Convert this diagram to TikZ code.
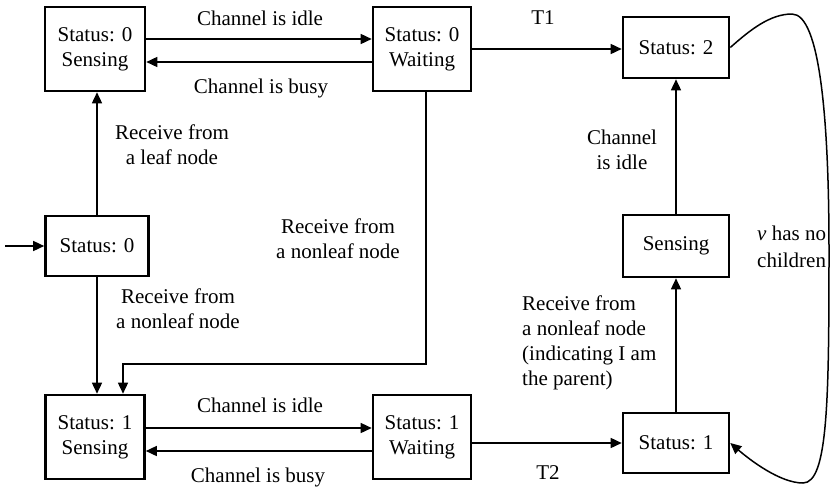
\documentclass[tikz,border=0pt]{standalone}
\usepackage{fontspec}
\setmainfont{Liberation Serif}
\usetikzlibrary{arrows.meta}
\begin{document}
\begin{tikzpicture}[x=1pt,y=-1pt,
  every node/.style={font=\fontsize{21}{25}\selectfont},
  stbox/.style={draw, line width=2.6pt, align=center, inner sep=0pt},
  lbl/.style={inner sep=0pt, align=center},
  arr/.style={line width=1.5pt, -{Triangle[length=11pt,width=10pt]}},
]
\useasboundingbox (0,0) rectangle (831,491);
% state boxes
\node[stbox, minimum width=100pt, minimum height=84pt] (A) at (95,49) {Status: 0\\Sensing};
\node[stbox, minimum width=98pt, minimum height=84pt] (B) at (422,49) {Status: 0\\Waiting};
\node[stbox, minimum width=103pt, minimum height=60pt] (C) at (97,246) {Status: 0};
\node[stbox, minimum width=99pt, minimum height=84pt] (D) at (95,437) {Status: 1\\Sensing};
\node[stbox, minimum width=98pt, minimum height=84pt] (E) at (422,437) {Status: 1\\Waiting};
\node[stbox, minimum width=106pt, minimum height=61pt] (H) at (676,47.5) {Status: 2};
\node[stbox, minimum width=106pt, minimum height=62pt] (G) at (676,246) {Sensing};
\node[stbox, minimum width=106pt, minimum height=60pt] (F) at (676,443) {Status: 1};
\coordinate (start) at (5,246);
\coordinate (bend) at (123,364);
% connectors
\draw[arr] (start) -- (C.west);
\draw[arr] ([yshift=10pt]A.east) -- ([yshift=10pt]B.west);
\draw[arr] ([yshift=-13pt]B.west) -- ([yshift=-13pt]A.east);
\draw[arr] (C.north) -- (C.north |- A.south);
\draw[arr] (C.south) -- (C.south |- D.north);
\draw[arr] ([xshift=4pt]B.south) |- (bend) -- (bend |- D.north);
\draw[arr] ([yshift=9pt]D.east) -- ([yshift=9pt]E.west);
\draw[arr] ([yshift=-14pt]E.west) -- ([yshift=-14pt]D.east);
\draw[arr] (B.east) -- (B.east -| H.west);
\draw[arr] (F.west -| E.east) -- (F.west);
\draw[arr] (F.north) -- (G.south);
\draw[arr] (G.north) -- (H.south);
\draw[arr] (H.east) .. controls (750,30) and (770,14) .. (792,14)
  .. controls (820,14) and (829,120) .. (829,250)
  .. controls (829,400) and (828,483) .. (803,483)
  .. controls (780,483) and (750,460) .. (F.east);
% labels
\node[lbl] (l1) at (260,18) {Channel is idle};
\node[lbl] (l2) at (261,88) {Channel is busy};
\node[lbl] (l3) at (260,405) {Channel is idle};
\node[lbl] (l4) at (258,477) {Channel is busy};
\node[lbl] (t1) at (543,18) {T1};
\node[lbl] (t2) at (548,473) {T2};
\node[lbl] (l5) at (172,145) {Receive from\\a leaf node};
\node[lbl] (l6) at (338,238.5) {Receive from\\a nonleaf node};
\node[lbl] (l7) at (178,309) {Receive from\\a nonleaf node};
\node[lbl, align=left, anchor=west] (l8) at (522,342.5) {Receive from\\a nonleaf node\\(indicating I am\\the parent)};
\node[lbl] (l9) at (622,149.5) {Channel\\is idle};
\node[lbl, align=left, anchor=west, font=\fontsize{21}{27}\selectfont] (l10) at (757,246.5) {\textit{v} has no\\children};
\end{tikzpicture}
\end{document}
